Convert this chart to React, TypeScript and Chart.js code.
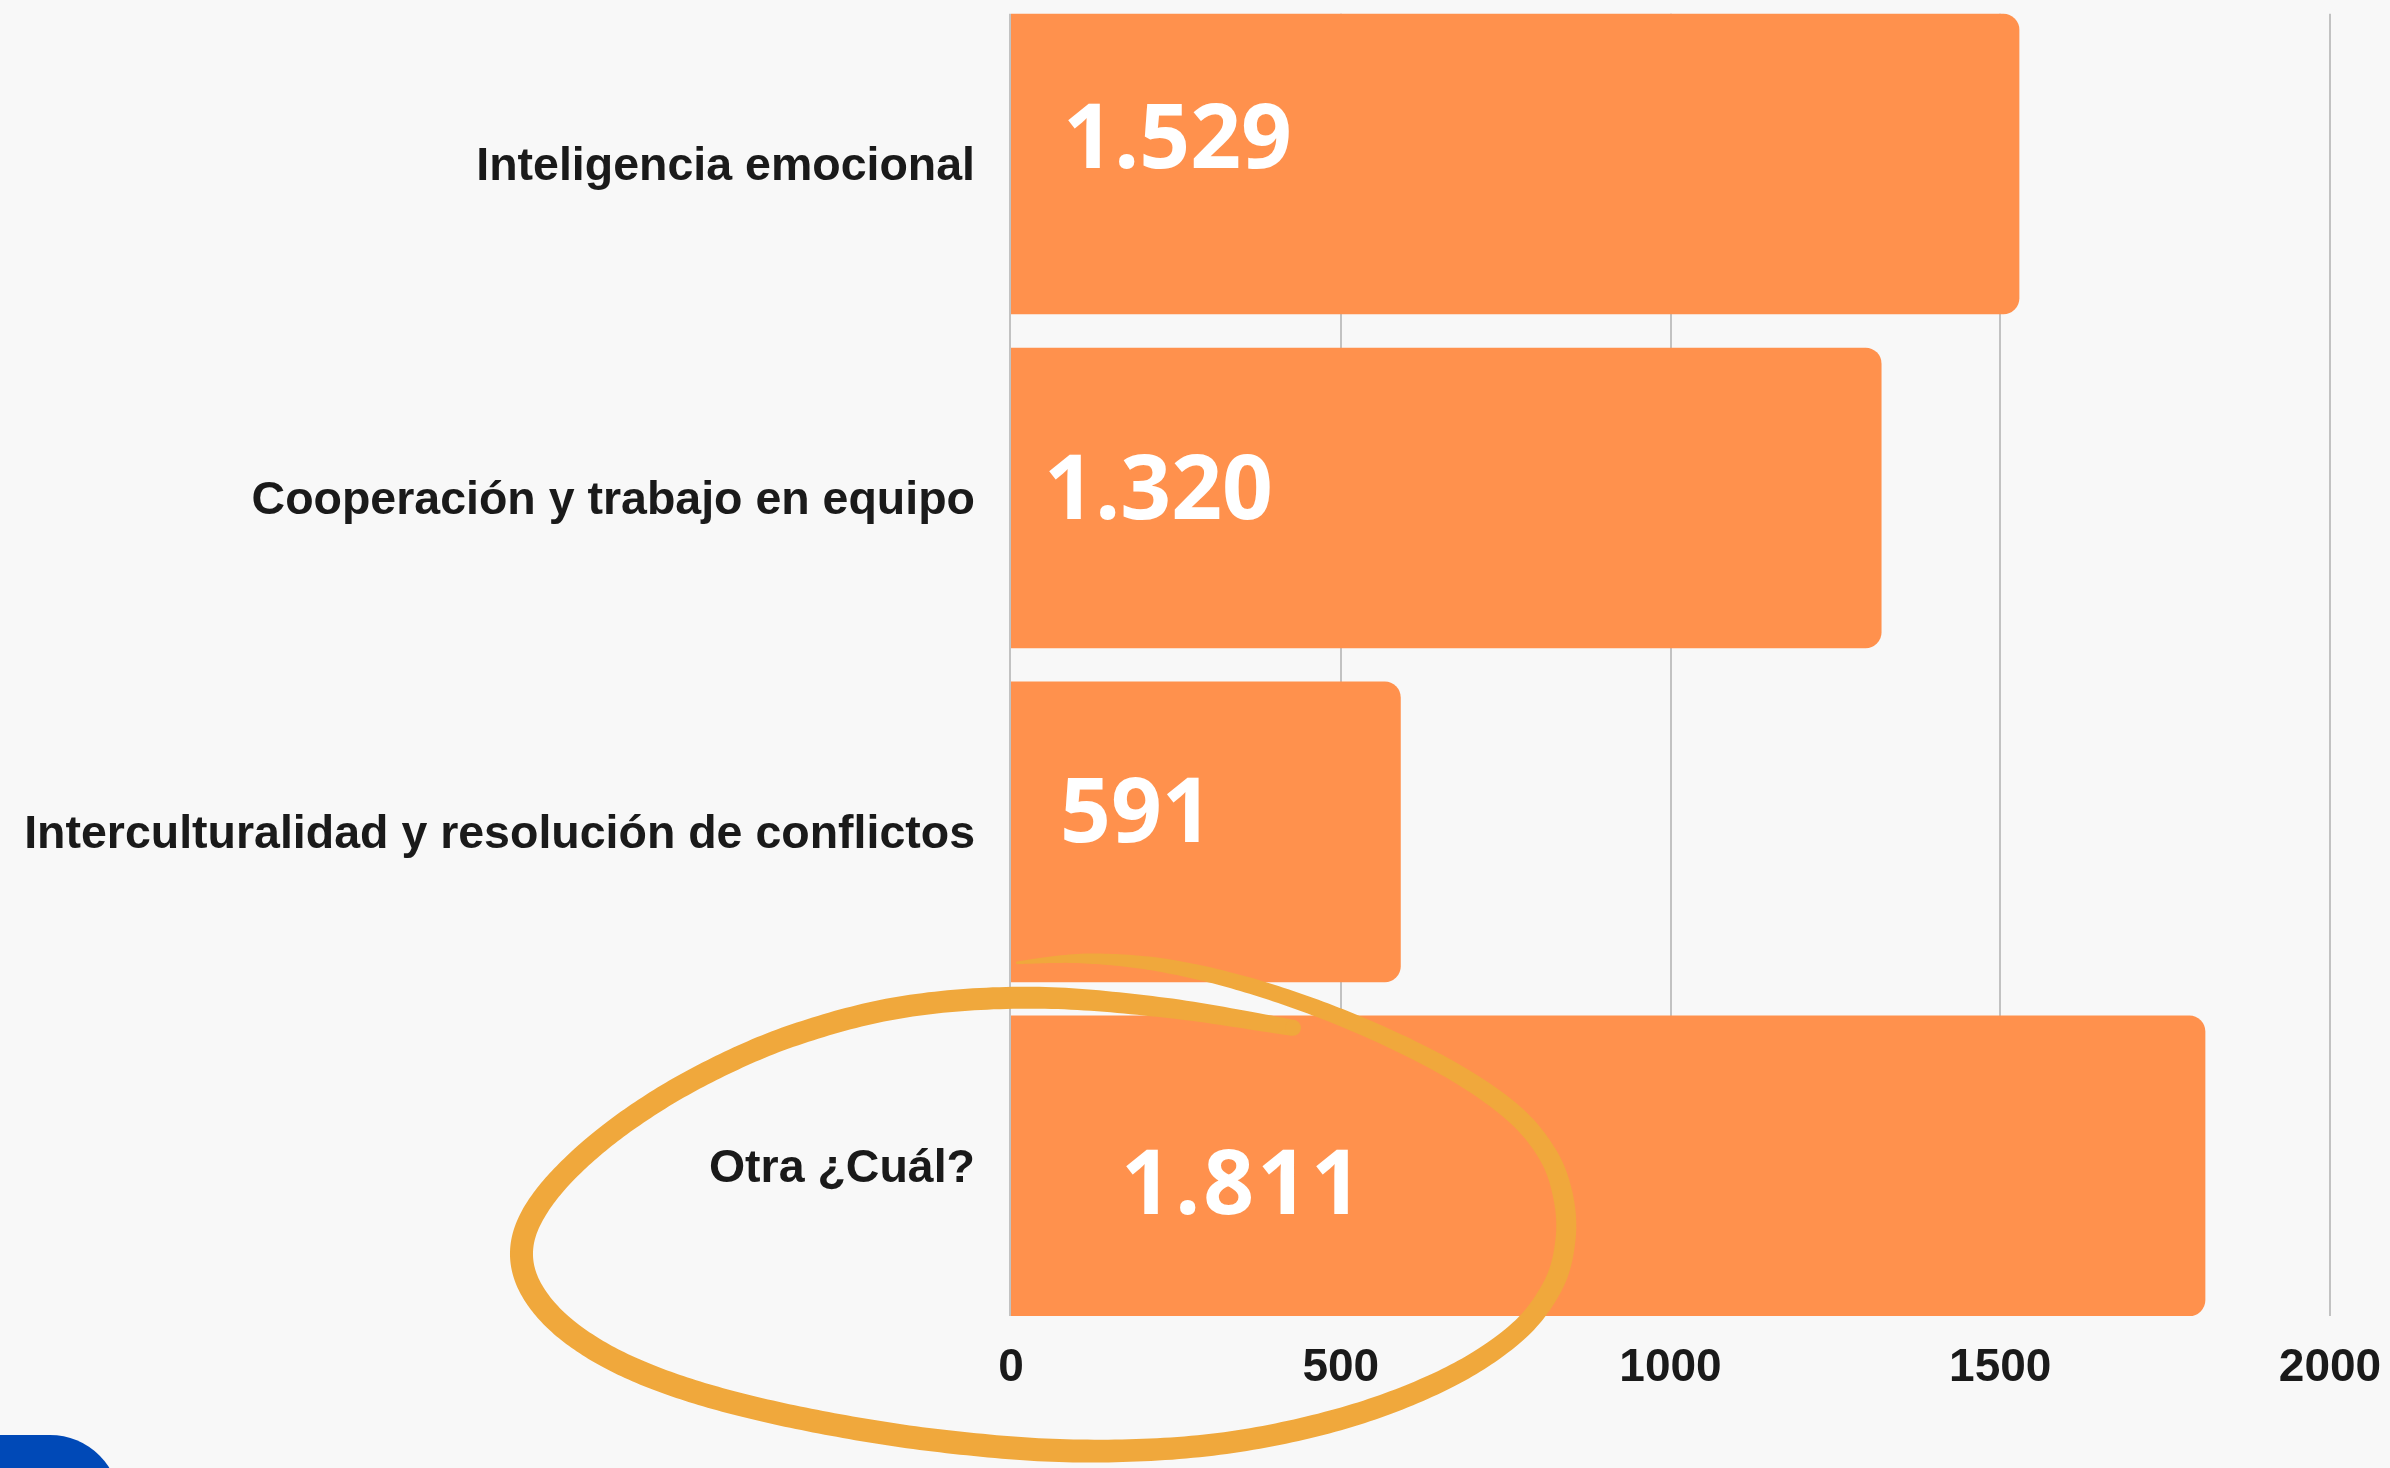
import React, { useEffect, useRef } from "react";
import { Chart, registerables } from "chart.js";

Chart.register(...registerables);

// ---- data ----
const categories = [
  "Inteligencia emocional",
  "Cooperación y trabajo en equipo",
  "Interculturalidad y resolución de conflictos",
  "Otra ¿Cuál?",
];
const values = [1529, 1320, 591, 1811];
const valueLabels = ["1.529", "1.320", "591", "1.811"];
const xTicks = [0, 500, 1000, 1500, 2000];

// ---- style (label placement relative to each bar) ----
const labelInkDx = [57, 38, 53, 115];
const labelBaselineDy = [4, 21, 10, 48];
const labelTracking = [0, 0, 0, 3];

// hand-drawn highlight loop: offsets relative to the last bar (x at value 0, bar centre)
const loopPath: [number, number][] = [
  [282, -138], [157, -158], [23, -168], [-111, -162], [-211, -129], [-311, -89],
  [-378, -49], [-444, 6], [-478, 50], [-486, 86], [-478, 126], [-444, 166],
  [-378, 200], [-311, 229], [-196, 254], [-81, 271], [62, 288], [206, 278],
  [320, 254], [435, 214], [504, 168], [539, 121], [553, 74], [550, 28],
  [534, -11], [499, -56], [444, -94], [335, -146], [246, -178], [157, -198],
  [68, -211], [5, -203],
];
const loopWidths = [
  16, 20, 22, 22, 22, 22, 22, 22, 23, 23, 23, 23, 23, 23, 23, 23, 23, 22, 22,
  21, 20, 20, 20, 20, 19, 19, 18, 17, 16, 14, 10, 2,
];

const FONT = "'Liberation Sans', Arial, Helvetica, sans-serif";
const TEXT = "#1a1a1a";
const BAR = "#FF914D";
const GRID = "#c2c2c2";
const LOOP = "#F0A83C";

// Taubin smoothing: removes jitter without shrinking the loop
function smoothPts(p: number[][], iterations: number): number[][] {
  const step = (cur: number[][], f: number) =>
    cur.map((pt, i) =>
      i === 0 || i === cur.length - 1
        ? pt
        : [
            pt[0] + f * ((cur[i - 1][0] + cur[i + 1][0]) / 2 - pt[0]),
            pt[1] + f * ((cur[i - 1][1] + cur[i + 1][1]) / 2 - pt[1]),
          ]
    );
  let cur = p;
  for (let k = 0; k < iterations; k++) {
    cur = step(cur, 0.5);
    cur = step(cur, -0.53);
  }
  return cur;
}

const gridPlugin = {
  id: "customGrid",
  beforeDatasetsDraw(chart: any) {
    const meta = chart.getDatasetMeta(0);
    const first = meta.data[0];
    const last = meta.data[meta.data.length - 1];
    const top = first.y - first.height / 2;
    const bottom = last.y + last.height / 2;
    const xs = chart.scales.x;
    const ctx = chart.ctx;
    ctx.save();
    ctx.strokeStyle = GRID;
    ctx.lineWidth = 2;
    xTicks.forEach((v) => {
      let px = Math.round(xs.getPixelForValue(v));
      if (v === 0) px -= 1;
      ctx.beginPath();
      ctx.moveTo(px, top);
      ctx.lineTo(px, bottom);
      ctx.stroke();
    });
    ctx.restore();
  },
};

const valuePlugin = {
  id: "valueLabels",
  afterDatasetsDraw(chart: any) {
    const meta = chart.getDatasetMeta(0);
    const ctx = chart.ctx;
    ctx.save();
    ctx.fillStyle = "#ffffff";
    ctx.font = "bold 89px 'Open Sans', sans-serif";
    ctx.textAlign = "left";
    ctx.textBaseline = "alphabetic";
    meta.data.forEach((bar: any, i: number) => {
      const txt = valueLabels[i];
      (ctx as any).letterSpacing = labelTracking[i] + "px";
      const m = ctx.measureText(txt);
      const x = bar.base + labelInkDx[i] + (m.actualBoundingBoxLeft || 0);
      const y = bar.y + labelBaselineDy[i];
      ctx.fillText(txt, x, y);
    });
    (ctx as any).letterSpacing = "0px";
    ctx.restore();
  },
};

const loopPlugin = {
  id: "loop",
  afterDraw(chart: any) {
    const meta = chart.getDatasetMeta(0);
    const lastBar = meta.data[meta.data.length - 1];
    const ax = chart.scales.x.getPixelForValue(0);
    const ay = lastBar.y;
    const pts = smoothPts(
      loopPath.map(([dx, dy]) => [ax + dx, ay + dy]),
      3
    );
    const n = pts.length;
    const STEPS = 20;
    const samples: { x: number; y: number; w: number }[] = [];
    for (let i = 0; i < n - 1; i++) {
      const p0 = pts[Math.max(i - 1, 0)];
      const p1 = pts[i];
      const p2 = pts[i + 1];
      const p3 = pts[Math.min(i + 2, n - 1)];
      const c1 = [p1[0] + (p2[0] - p0[0]) / 6, p1[1] + (p2[1] - p0[1]) / 6];
      const c2 = [p2[0] - (p3[0] - p1[0]) / 6, p2[1] - (p3[1] - p1[1]) / 6];
      const last = i === n - 2;
      for (let s = 0; s < (last ? STEPS + 1 : STEPS); s++) {
        const t = s / STEPS;
        const u = 1 - t;
        const x = u * u * u * p1[0] + 3 * u * u * t * c1[0] + 3 * u * t * t * c2[0] + t * t * t * p2[0];
        const y = u * u * u * p1[1] + 3 * u * u * t * c1[1] + 3 * u * t * t * c2[1] + t * t * t * p2[1];
        const w = loopWidths[i] + (loopWidths[i + 1] - loopWidths[i]) * t;
        samples.push({ x, y, w });
      }
    }
    const left: number[][] = [];
    const right: number[][] = [];
    for (let k = 0; k < samples.length; k++) {
      const a = samples[Math.max(k - 2, 0)];
      const b = samples[Math.min(k + 2, samples.length - 1)];
      let tx = b.x - a.x;
      let ty = b.y - a.y;
      const len = Math.hypot(tx, ty) || 1;
      tx /= len;
      ty /= len;
      const nx = -ty;
      const ny = tx;
      const h = samples[k].w / 2;
      left.push([samples[k].x + nx * h, samples[k].y + ny * h]);
      right.push([samples[k].x - nx * h, samples[k].y - ny * h]);
    }
    const ctx = chart.ctx;
    ctx.save();
    ctx.fillStyle = LOOP;
    ctx.beginPath();
    ctx.moveTo(left[0][0], left[0][1]);
    for (let k = 1; k < left.length; k++) ctx.lineTo(left[k][0], left[k][1]);
    for (let k = right.length - 1; k >= 0; k--) ctx.lineTo(right[k][0], right[k][1]);
    ctx.closePath();
    ctx.fill("nonzero");
    ctx.beginPath();
    ctx.arc(samples[0].x, samples[0].y, samples[0].w / 2, 0, Math.PI * 2);
    ctx.fill();
    ctx.restore();
  },
};

export default function App() {
  const ref = useRef<HTMLCanvasElement | null>(null);

  useEffect(() => {
    document.body.style.margin = "0";
    document.body.style.background = "#f8f8f8";
    if (!ref.current) return;
    const chart = new Chart(ref.current, {
      type: "bar",
      data: {
        labels: categories,
        datasets: [
          {
            data: values,
            backgroundColor: BAR,
            borderWidth: 0,
            borderRadius: 16,
            borderSkipped: "start",
            barPercentage: 0.9,
            categoryPercentage: 1,
          },
        ],
      },
      options: {
        indexAxis: "y",
        animation: false,
        responsive: false,
        maintainAspectRatio: false,
        layout: { padding: { left: 0, right: 60, top: 0, bottom: 64 } },
        plugins: {
          legend: { display: false },
          tooltip: { enabled: false },
        },
        scales: {
          x: {
            min: 0,
            max: 2000,
            afterBuildTicks: (s: any) => {
              s.ticks = xTicks.map((v) => ({ value: v }));
            },
            ticks: {
              color: TEXT,
              font: { family: FONT, size: 46, weight: "bold" },
              padding: 8,
              maxRotation: 0,
              autoSkip: false,
              callback: (v: any) => String(v),
            },
            grid: { display: false, drawTicks: false },
            border: { display: false },
            afterFit: (s: any) => {
              s.paddingLeft = 0;
              s.paddingRight = 0;
            },
          },
          y: {
            ticks: {
              color: TEXT,
              font: { family: FONT, size: 46.5, weight: "bold" },
              padding: 36,
              labelOffset: 3,
              autoSkip: false,
            },
            grid: { display: false, drawTicks: false },
            border: { display: false },
            afterFit: (s: any) => {
              s.width = 1011;
              s.paddingTop = 0;
              s.paddingBottom = 0;
            },
          },
        },
      },
      plugins: [gridPlugin, valuePlugin, loopPlugin],
    } as any);
    return () => chart.destroy();
  }, []);

  return (
    <div
      style={{
        position: "fixed",
        left: 0,
        top: 0,
        width: 2390,
        height: 1468,
        overflow: "hidden",
        background: "#f8f8f8",
      }}
    >
      <canvas
        ref={ref}
        width={2390}
        height={1471}
        style={{ position: "absolute", left: 0, top: -3, width: 2390, height: 1471 }}
      />
      <div
        style={{
          position: "absolute",
          left: -100,
          top: 1435,
          width: 220,
          height: 160,
          background: "#0049B7",
          borderTopRightRadius: 70,
        }}
      />
    </div>
  );
}
